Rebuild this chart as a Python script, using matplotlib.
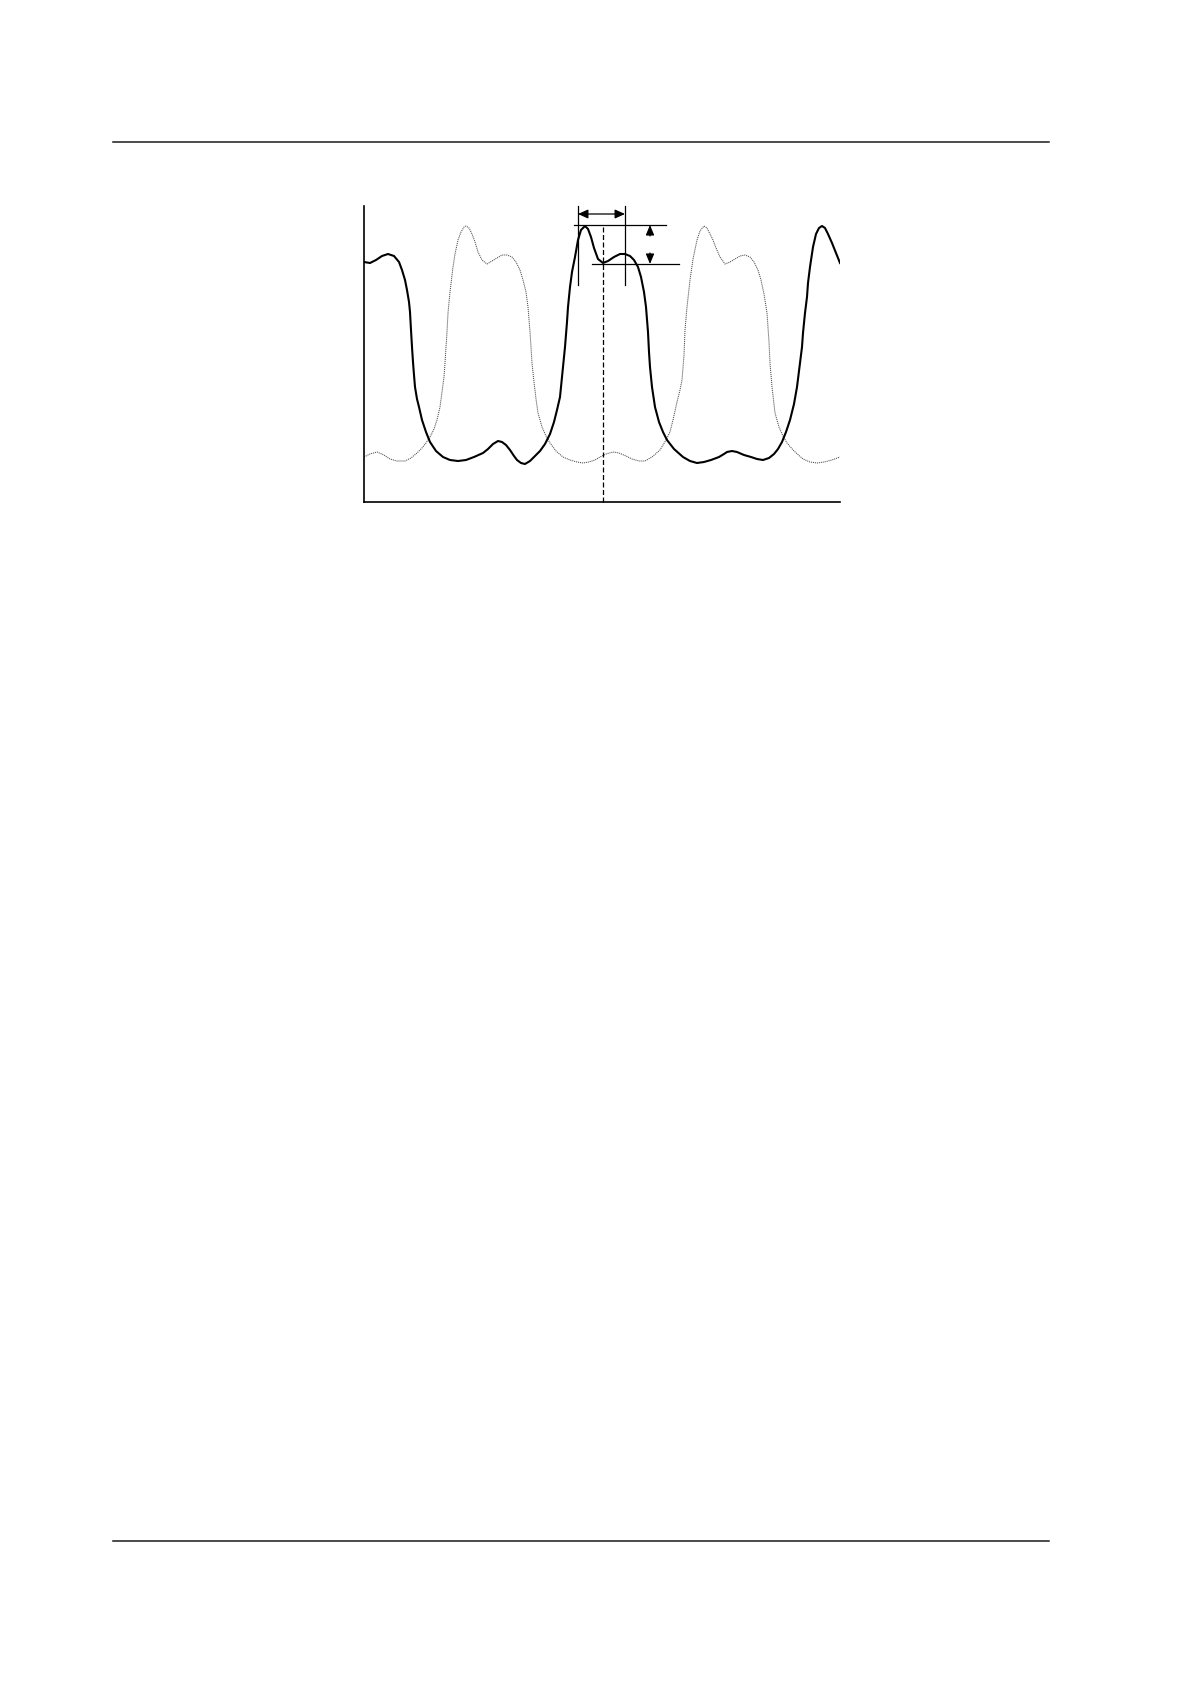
import matplotlib
matplotlib.use("Agg")
import matplotlib.pyplot as plt
from matplotlib.lines import Line2D

# ---- data (x: horizontal units, y: vertical units) ----
dark_x = [0, 6, 12, 18, 24, 30, 35, 38, 41, 43, 45, 46, 47, 48, 49, 50, 51, 53, 55, 58, 62, 66,
          72, 79, 86, 94, 102, 110, 119, 124, 129, 134, 138, 142, 146, 150, 153, 157, 161, 166,
          171, 176, 181, 186, 190, 193, 196, 198, 201, 203, 204, 206, 208, 211, 214, 217, 221,
          224, 227, 230, 234, 239, 244, 250, 256, 261, 266, 270, 274, 277, 280, 282, 284, 285,
          286, 288, 291, 295, 299, 303, 310, 319, 326, 333, 340, 347, 355, 360, 363, 368, 373,
          380, 387, 393, 399, 405, 410, 414, 418, 422, 426, 430, 433, 436, 438, 439, 441, 443,
          444, 446, 449, 452, 455, 458, 461, 464, 468, 472, 476]
dark_y = [240, 239, 242, 246, 248, 246, 240, 232, 222, 212, 200, 190, 172, 155, 140, 127, 115,
          103, 95, 82, 70, 60, 51, 45, 42, 41, 42, 45, 49, 53, 58, 61, 60, 57, 52, 46, 42, 39,
          38, 41, 46, 51, 58, 68, 80, 92, 105, 125, 155, 180, 195, 215, 230, 245, 262, 272, 276,
          273, 265, 254, 243, 239, 241, 245, 248, 248, 246, 242, 235, 225, 210, 195, 170, 150,
          135, 115, 95, 80, 70, 62, 53, 45, 41, 39, 40, 42, 45, 48, 50, 51, 50, 47, 45, 43, 42,
          44, 48, 53, 60, 70, 82, 98, 115, 139, 155, 169, 189, 205, 219, 235, 255, 268, 274,
          276, 274, 268, 259, 249, 239]

gray_x = [0, 6, 13, 20, 26, 33, 41, 47, 53, 58, 62, 66, 70, 73, 76, 78, 80, 81, 82, 83, 84, 86,
          89, 91, 94, 97, 100, 102, 105, 108, 111, 114, 118, 123, 128, 133, 138, 143, 148, 152,
          156, 159, 162, 164, 166, 167, 168, 170, 172, 174, 178, 182, 186, 192, 199, 206, 213,
          219, 225, 231, 236, 242, 249, 255, 262, 268, 275, 281, 288, 296, 302, 306, 309, 313,
          316, 318, 320, 321, 323, 326, 329, 333, 336, 340, 343, 346, 349, 352, 356, 361, 366,
          371, 376, 381, 386, 390, 394, 397, 400, 403, 405, 406, 408, 411, 415, 419, 423, 430,
          439, 446, 453, 460, 468, 476]
gray_y = [45, 48, 50, 47, 43, 41, 41, 44, 49, 54, 59, 65, 73, 82, 95, 110, 125, 139, 155, 170,
          189, 210, 235, 248, 262, 270, 275, 276, 274, 268, 260, 250, 242, 238, 241, 244, 247,
          247, 245, 240, 232, 222, 210, 195, 170, 155, 139, 120, 103, 89, 75, 66, 59, 51, 45,
          42, 40, 39, 40, 42, 45, 48, 50, 49, 46, 43, 41, 41, 45, 52, 62, 70, 82, 100, 112, 122,
          147, 172, 195, 222, 243, 262, 271, 276, 274, 268, 262, 254, 245, 238, 240, 243, 246,
          247, 245, 240, 232, 222, 208, 189, 160, 139, 115, 89, 75, 66, 59, 51, 43, 40, 39, 40,
          42, 45]

# annotation geometry (data units)
marker_x = [214, 261]          # solid vertical reference lines
dashed_x = 239                 # dashed vertical line
level_hi = 277                 # upper horizontal level
level_lo = 238                 # lower horizontal level

W, H = 1191, 1684
fig = plt.figure(figsize=(W / 100, H / 100), dpi=100)
fig.patch.set_facecolor("white")

# page rules
for yy in (142, 1541):
    fig.add_artist(Line2D([113 / W, 1049 / W], [1 - yy / H, 1 - yy / H],
                          transform=fig.transFigure, color="#1a1a1a", lw=1.1))

ax = fig.add_axes([364 / W, 1 - 502 / H, 476 / W, (502 - 206) / H])
ax.set_xlim(0, 476)
ax.set_ylim(0, 296)
for s in ("top", "right"):
    ax.spines[s].set_visible(False)
for s in ("left", "bottom"):
    ax.spines[s].set_linewidth(1.2)
    ax.spines[s].set_color("black")
ax.set_xticks([])
ax.set_yticks([])

ax.plot(gray_x, gray_y, color="#4a4a4a", lw=0.75, ls=(0, (1.0, 0.9)))
ax.plot(dark_x, dark_y, color="black", lw=1.5, solid_joinstyle="round")

# dashed vertical line
ax.plot([dashed_x, dashed_x], [0, level_hi], color="black", lw=0.9, ls=(0, (4, 2)), clip_on=False)
# vertical solid markers
for mx in marker_x:
    ax.plot([mx, mx], [217, 296], color="black", lw=0.9, clip_on=False)
# horizontal levels
ax.plot([210, 302], [level_hi, level_hi], color="black", lw=0.9, clip_on=False)
ax.plot([228, 315], [level_lo, level_lo], color="black", lw=0.9, clip_on=False)
# horizontal double arrow
ax.annotate("", xy=(marker_x[1], 288), xytext=(marker_x[0], 288),
            arrowprops=dict(arrowstyle="<|-|>,head_length=0.6,head_width=0.27",
                            color="black", lw=0.9, shrinkA=0, shrinkB=0),
            annotation_clip=False)
# vertical arrows
ax.annotate("", xy=(286, level_hi), xytext=(286, 266),
            arrowprops=dict(arrowstyle="-|>,head_length=0.6,head_width=0.25",
                            color="black", lw=0.9, shrinkA=0, shrinkB=0),
            annotation_clip=False)
ax.annotate("", xy=(286, level_lo), xytext=(286, 249),
            arrowprops=dict(arrowstyle="-|>,head_length=0.6,head_width=0.25",
                            color="black", lw=0.9, shrinkA=0, shrinkB=0),
            annotation_clip=False)

fig.savefig("out.png", dpi=100, facecolor="white")
